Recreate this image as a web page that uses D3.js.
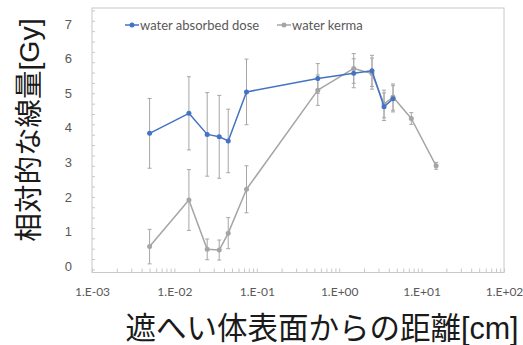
<!DOCTYPE html>
<html>
<head>
<meta charset="utf-8">
<script src="https://cdn.jsdelivr.net/npm/d3@7"></script>
<style>
  html, body { margin: 0; padding: 0; background: #fff; }
  svg { display: block; }
</style>
</head>
<body>
<svg id="chart" width="523" height="345"></svg>
<script>
// Distance from the shield surface [cm]
const distance = [0.005, 0.015, 0.025, 0.035, 0.045, 0.075, 0.55, 1.5, 2.5, 3.5, 4.5, 7.5, 15];

// Water absorbed dose [Gy] and its uncertainty
const absorbedDose    = [3.84, 4.42, 3.81, 3.74, 3.62, 5.04, 5.43, 5.58, 5.65, 4.61, 4.84];
const absorbedDoseErr = [1.01, 1.06, 1.21, 1.20, 0.92, 0.95, 0.43, 0.42, 0.45, 0.40, 0.38];

// Water kerma [Gy] and its uncertainty
const kerma    = [0.56, 1.91, 0.48, 0.46, 0.95, 2.22, 5.09, 5.72, 5.57, 4.69, 4.89, 4.27, 2.90];
const kermaErr = [0.50, 0.88, 0.30, 0.29, 0.45, 0.68, 0.44, 0.43, 0.45, 0.40, 0.38, 0.17, 0.10];

const xTickValues = [1e-3, 1e-2, 1e-1, 1e0, 1e1, 1e2];
const xTickLabels = ["1.E-03", "1.E-02", "1.E-01", "1.E+00", "1.E+01", "1.E+02"];
const yTickValues = [0, 1, 2, 3, 4, 5, 6, 7];

const seriesNames = ["water absorbed dose", "water kerma"];

const svg = d3.select("#chart");

const plot = { left: 92, right: 504, top: 8, bottom: 272.5 };

const x = d3.scaleLog().domain([1e-3, 1e2]).range([plot.left, plot.right]);
const y = d3.scaleLinear().domain([-0.19, 7.47]).range([plot.bottom, plot.top]);

const axisColor = "#c8c8c8";
const labelColor = "#595959";

// plot frame
svg.append("rect")
  .attr("x", plot.left).attr("y", plot.top)
  .attr("width", plot.right - plot.left).attr("height", plot.bottom - plot.top)
  .attr("fill", "none").attr("stroke", axisColor).attr("stroke-width", 1);

// x axis: decade labels, minor log ticks pointing inward
const xMinor = [];
for (let e = -3; e < 2; e++) for (let m = 1; m <= 9; m++) xMinor.push(m * Math.pow(10, e));
xMinor.push(100);

const xAxis = d3.axisBottom(x).tickValues(xMinor).tickSize(-4).tickFormat("");
const gx = svg.append("g").attr("transform", `translate(0,${plot.bottom})`).call(xAxis);
gx.select(".domain").remove();
gx.selectAll(".tick line").attr("stroke", axisColor);

const xLab = d3.axisBottom(x).tickValues(xTickValues).tickSize(0)
  .tickFormat((d, i) => xTickLabels[i]);
const gxl = svg.append("g").attr("transform", `translate(0,${plot.bottom + 12})`).call(xLab);
gxl.select(".domain").remove();
gxl.selectAll("text")
  .attr("fill", labelColor)
  .style("font-family", "Lato, 'Open Sans', sans-serif")
  .style("font-size", "12px");

// y axis: integer labels, minor ticks
const yMinor = d3.range(-0.1, 7.45, 0.3);
const yAxis = d3.axisLeft(y).tickValues(yMinor).tickSize(-3).tickFormat("");
const gy = svg.append("g").attr("transform", `translate(${plot.left},0)`).call(yAxis);
gy.select(".domain").remove();
gy.selectAll(".tick line").attr("stroke", axisColor);

const yLab = d3.axisLeft(y).tickValues(yTickValues).tickSize(0).tickFormat(d3.format("d"));
const gyl = svg.append("g").attr("transform", `translate(75,0)`).call(yLab);
gyl.select(".domain").remove();
gyl.selectAll("text")
  .attr("fill", labelColor)
  .style("font-family", "'Liberation Sans', Arial, sans-serif")
  .style("font-size", "13px");

// error bars
const errColor = "#a6a6a6";
function errorBars(vals, errs) {
  const g = svg.append("g").attr("stroke", errColor).attr("stroke-width", 1).attr("fill", "none");
  vals.forEach((v, i) => {
    const cx = x(distance[i]);
    const y0 = y(v - errs[i]), y1 = y(v + errs[i]);
    g.append("line").attr("x1", cx).attr("x2", cx).attr("y1", y0).attr("y2", y1);
    g.append("line").attr("x1", cx - 2).attr("x2", cx + 2).attr("y1", y0).attr("y2", y0);
    g.append("line").attr("x1", cx - 2).attr("x2", cx + 2).attr("y1", y1).attr("y2", y1);
  });
}
errorBars(absorbedDose, absorbedDoseErr);
errorBars(kerma, kermaErr);

// series lines and markers
function series(vals, color) {
  const pts = vals.map((v, i) => [distance[i], v]);
  svg.append("path")
    .datum(pts)
    .attr("fill", "none").attr("stroke", color).attr("stroke-width", 1.5)
    .attr("stroke-linejoin", "round")
    .attr("d", d3.line().x(d => x(d[0])).y(d => y(d[1])));
  svg.append("g").selectAll("circle").data(pts).join("circle")
    .attr("cx", d => x(d[0])).attr("cy", d => y(d[1])).attr("r", 2.5)
    .attr("fill", color);
}
const gray = "#a5a5a5", blue = "#4472c4";
series(kerma, gray);
series(absorbedDose, blue);

// legend
const legend = [
  { name: seriesNames[0], color: blue, x: 125 },
  { name: seriesNames[1], color: gray, x: 277 }
];
legend.forEach(l => {
  const g = svg.append("g").attr("transform", `translate(${l.x},25)`);
  g.append("line").attr("x1", 0).attr("x2", 14).attr("y1", 0).attr("y2", 0)
    .attr("stroke", l.color).attr("stroke-width", 1.5);
  g.append("circle").attr("cx", 7).attr("cy", 0).attr("r", 2.5).attr("fill", l.color);
  g.append("text").attr("x", 15).attr("y", 4.5)
    .attr("fill", labelColor)
    .style("font-family", "Lato, 'Open Sans', sans-serif")
    .style("font-size", "13px")
    .text(l.name);
});

// axis titles
svg.append("text")
  .attr("transform", "translate(39,130) rotate(-90)")
  .attr("text-anchor", "middle")
  .attr("fill", "#1a1a1a")
  .style("font-family", "'Liberation Sans', 'Noto Sans CJK JP', sans-serif")
  .style("font-size", "28.5px")
  .text("相対的な線量[Gy]");

svg.append("text")
  .attr("x", 322).attr("y", 339)
  .attr("text-anchor", "middle")
  .attr("fill", "#1a1a1a")
  .style("font-family", "'Liberation Sans', 'Noto Sans CJK JP', sans-serif")
  .style("font-size", "30.5px")
  .text("遮へい体表面からの距離[cm]");
</script>
</body>
</html>
